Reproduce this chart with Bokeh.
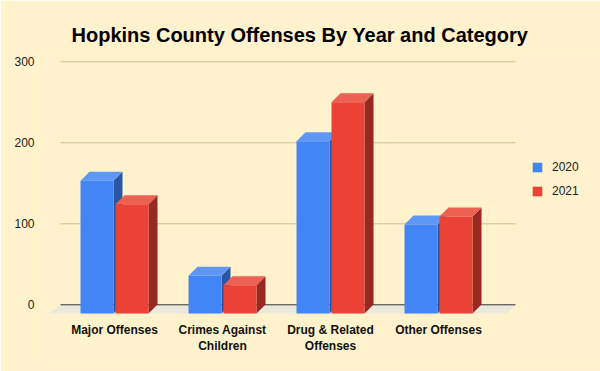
from bokeh.plotting import figure
from bokeh.models import FixedTicker, Legend, LegendItem
from bokeh.core.properties import value
from bokeh.embed import file_html
from bokeh.resources import INLINE

categories = ["Major Offenses", "Crimes Against\nChildren", "Drug & Related\nOffenses", "Other Offenses"]
series_names = ["2020", "2021"]
values_2020 = [153, 36, 202, 99]
values_2021 = [124, 24, 250, 109]
y_ticks = [0, 100, 200, 300]

BG = "#fff2cc"
front = ["#4285f4", "#ea4335"]
topc = ["#5e97f6", "#ed6153"]
sidec = ["#2a56a5", "#962a22"]

PX_X = 108.0   # px per category
PX_Y = 0.81    # px per value unit
bar_w = 33 / PX_X
offs = [-17.5 / PX_X, 17.5 / PX_X]
dx = 9 / PX_X
dy = 9 / PX_Y
floor = -10.7

FL, FB, FT = 46, 362, 50  # frame left, bottom, top in page pixels
p = figure(width=600, height=371, output_backend="svg", toolbar_location=None,
           x_range=(-(114 - FL) / PX_X, 3 + (600 - 438) / PX_X),
           y_range=(-(FB - 304.3) / PX_Y, -(FB - 304.3) / PX_Y + (FB - FT) / PX_Y),
           min_border_left=FL, min_border_right=0, min_border_bottom=371 - FB, min_border_top=FT,
           x_axis_location=None)
p.background_fill_color = BG
p.border_fill_color = BG
p.outline_line_color = None
p.xgrid.visible = False
p.ygrid.visible = False

p.title.text = "Hopkins County Offenses By Year and Category"
p.title.text_font = "Liberation Sans"
p.title.text_font_size = "20px"
p.title.text_font_style = "bold"
p.title.align = "left"
p.title.offset = 25
p.title.text_color = "#000000"

ya = p.yaxis[0]
ya.ticker = FixedTicker(ticks=y_ticks)
ya.axis_line_color = None
ya.major_tick_line_color = None
ya.minor_tick_line_color = None
ya.major_label_text_font = "Liberation Sans"
ya.major_label_text_font_size = "12px"
ya.major_label_text_color = "#222222"
ya.major_label_standoff = 6

gx0 = -0.5
gx1 = 3 + (515 - 438) / PX_X
# floor
p.patch([gx0, gx1, 3 + (506 - 438) / PX_X, -(114 - 48) / PX_X],
        [0, 0, floor, floor], fill_color="#ebe8dc", line_color=None)
# gridlines
grid_ticks = [t for t in y_ticks if t > 0]
p.segment(x0=[gx0] * len(grid_ticks), x1=[gx1] * len(grid_ticks), y0=grid_ticks, y1=grid_ticks,
          line_color="#cdbd9c", line_width=1)
p.segment(x0=[gx0], x1=[gx1], y0=[0], y1=[0], line_color="#333333", line_width=1)

renderers = []
for si, vals in enumerate([values_2020, values_2021]):
    xs = [i + offs[si] for i in range(len(categories))]
    tx, ty, sx, sy = [], [], [], []
    for x, v in zip(xs, vals):
        l, r = x - bar_w / 2, x + bar_w / 2
        tx.append([l, r, r + dx, l + dx]); ty.append([v, v, v + dy, v + dy])
        sx.append([r, r + dx, r + dx, r]); sy.append([floor, floor + dy, v + dy, v])
    p.patches(sx, sy, fill_color=sidec[si], line_color=None)
    p.patches(tx, ty, fill_color=topc[si], line_color=None)
    r = p.vbar(x=xs, top=vals, bottom=floor, width=bar_w, fill_color=front[si], line_color=None)
    renderers.append(r)

p.text(x=list(range(len(categories))), y=[-(322 - 304.3) / PX_Y] * len(categories), text=categories,
       text_font=value("Liberation Sans"), text_font_size="12px", text_font_style="bold",
       text_align="center", text_baseline="top", text_color="#111111", text_line_height=1.15)

legend = Legend(items=[LegendItem(label=n, renderers=[rr]) for n, rr in zip(series_names, renderers)],
                location=(531 - FL, FB - 198), background_fill_alpha=0, border_line_color=None,
                label_text_font="Liberation Sans", label_text_font_size="12px", label_text_color="#222222",
                glyph_width=12, glyph_height=12, spacing=10, label_standoff=9, padding=0, margin=0)
p.add_layout(legend)

open("out.html", "w").write(file_html(p, INLINE))
